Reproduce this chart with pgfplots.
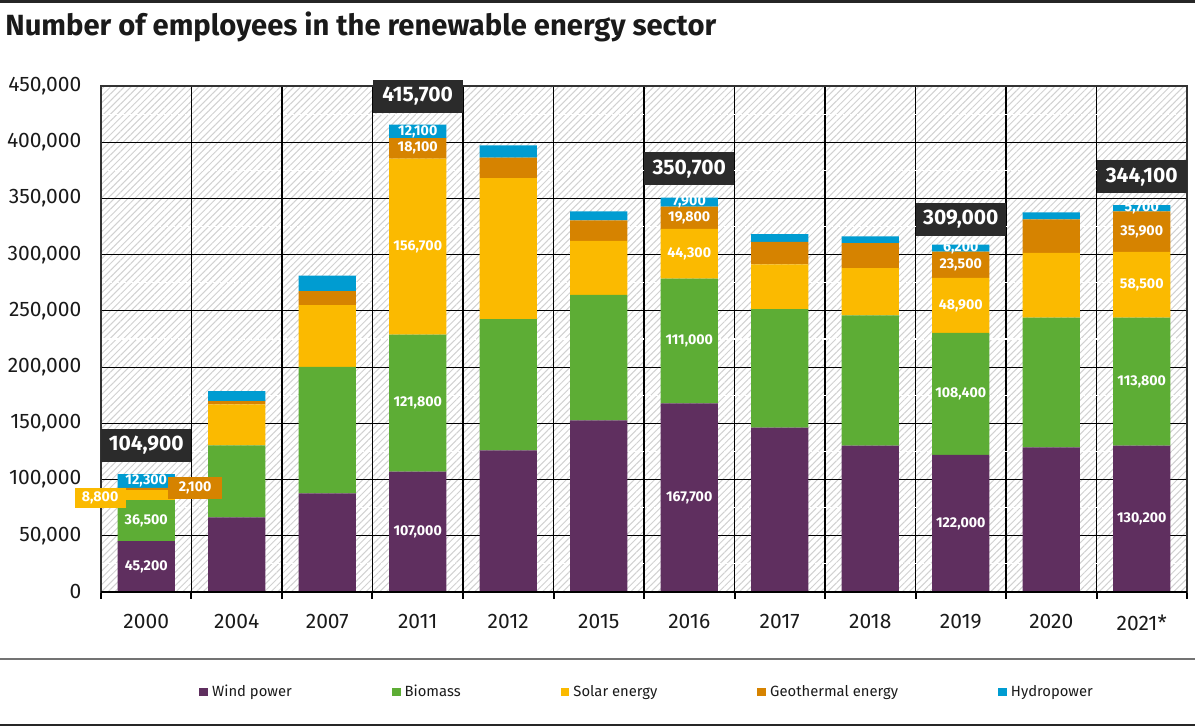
\documentclass[border=0pt]{standalone}
\usepackage{pgfplots}
\pgfplotsset{compat=1.18}
\usepackage{pgfplotstable}
\usepackage{fontspec}
\setmainfont{Fira Sans}
\usetikzlibrary{patterns.meta}

\definecolor{wind}{HTML}{5F2F5F}
\definecolor{bio}{HTML}{5DAD35}
\definecolor{solar}{HTML}{FBBA00}
\definecolor{geo}{HTML}{D68300}
\definecolor{hydro}{HTML}{009CD1}
\definecolor{boxdark}{HTML}{2B2B2B}
\definecolor{ink}{HTML}{1A1A1A}

% employees per sector (x = category index)
\pgfplotstableread{
x  wind   bio    solar  geo   hydro
0  45200  36500  8800   2100  12300
1  66400  64100  36300  2900  8900
2  87700  112500 54900  12400 13800
3  107000 121800 156700 18100 12100
4  126000 116700 125400 18300 10900
5  152600 111600 48100  18100 8200
6  167700 111000 44300  19800 7900
7  146100 105400 39900  20000 6800
8  130200 115700 42200  22200 5900
9  122000 108400 48900  23500 6200
10 128700 115400 57600  29600 6400
11 130200 113800 58500  35900 5700
}\employees

\pgfplotsset{
    frame/.style={at={(0,0)}, anchor=south west, scale only axis,
        width=543pt, height=253pt, xmin=-0.5, xmax=11.5, ymin=0, ymax=450000, clip=false},
}

\begin{document}
\begin{tikzpicture}[
    lbl/.style={text=white, font=\bfseries\fontsize{7.1}{8}\selectfont, inner sep=0pt},
    tot/.style={fill=boxdark, text=white, font=\bfseries\fontsize{10.5}{12}\selectfont,
        minimum width=45pt, minimum height=16.5pt, inner sep=0pt},
]
\useasboundingbox (-50.5pt,-67.5pt) rectangle (547pt,296pt);
\begin{axis}[
    frame,
    ybar stacked,
    bar width=0.63,
    xtick={0,...,11},
    xticklabels={2000,2004,2007,2011,2012,2015,2016,2017,2018,2019,2020,2021*},
    minor xtick={-0.5,0.5,...,11.5},
    ytick={0,50000,...,450000},
    minor ytick={25000,75000,...,425000},
    xminorgrids, ymajorgrids, yminorgrids,
    major grid style={black, line width=0.6pt},
    minor x grid style={black, line width=0.6pt},
    minor y grid style={white, dash pattern=on 2pt off 1.5pt, line width=0.6pt},
    major tick length=0pt,
    minor tick length=3.5pt,
    tick align=outside,
    xtick pos=lower, ytick pos=left,
    x tick style={black, line width=1pt},
    y tick style={draw=none},
    axis line style={black!80, line width=0.6pt},
    axis background/.style={pattern={Lines[angle=45,distance=2.4pt,line width=0.5pt]}, pattern color=black!18},
    scaled y ticks=false,
    /pgf/number format/fixed,
    /pgf/number format/assume math mode=true,
    /pgf/number format/1000 sep={,},
    yticklabel={\pgfmathprintnumber[fixed,precision=0]{\tick}},
    ticklabel style={font=\fontsize{10.5}{12}\selectfont, text=ink},
    xticklabel style={yshift=-7.8pt},
    yticklabel style={xshift=-6.3pt},
    legend columns=5,
    legend style={at={(0.0902,-0.1976)}, anchor=west, draw=none, fill=none, inner sep=0pt,
        font=\fontsize{7.4}{9}\selectfont, text=ink,
        /tikz/every even column/.append style={column sep=48pt}},
    legend image code/.code={\fill[#1] (0pt,-2.2pt) rectangle (4.4pt,2.2pt);},
]
\addplot[fill=wind, draw=none] table[x=x, y=wind] {\employees};
\addplot[fill=bio, draw=none] table[x=x, y=bio] {\employees};
\addplot[fill=solar, draw=none] table[x=x, y=solar] {\employees};
\addplot[fill=geo, draw=none] table[x=x, y=geo] {\employees};
\addplot[fill=hydro, draw=none] table[x=x, y=hydro] {\employees};
\legend{Wind power, Biomass, Solar energy, Geothermal energy, Hydropower}
\end{axis}

% value labels, drawn over the bars with the same axis mapping
\begin{axis}[frame, hide axis]
\draw[black, line width=1.3pt] (axis cs:-0.5,0) -- (axis cs:11.5,0);
% 2000
\node[lbl] at (axis cs:0,22600) {45,200};
\node[lbl] at (axis cs:0,63450) {36,500};
\node[lbl] at (axis cs:0,98750) {12,300};
\node[lbl, fill=solar, minimum width=25.5pt, minimum height=10pt] at (axis cs:-0.51,83500) {8,800};
\node[lbl, fill=geo, minimum width=27pt, minimum height=11pt] at (axis cs:0.54,92600) {2,100};
% 2011
\node[lbl] at (axis cs:3,53500) {107,000};
\node[lbl] at (axis cs:3,167900) {121,800};
\node[lbl] at (axis cs:3,307150) {156,700};
\node[lbl] at (axis cs:3,394550) {18,100};
\node[lbl] at (axis cs:3,409650) {12,100};
% 2016
\node[lbl] at (axis cs:6,83850) {167,700};
\node[lbl] at (axis cs:6,223200) {111,000};
\node[lbl] at (axis cs:6,300850) {44,300};
\node[lbl] at (axis cs:6,332900) {19,800};
\node[lbl] at (axis cs:6,346750) {7,900};
% 2019
\node[lbl] at (axis cs:9,61000) {122,000};
\node[lbl] at (axis cs:9,176200) {108,400};
\node[lbl] at (axis cs:9,254850) {48,900};
\node[lbl] at (axis cs:9,291050) {23,500};
\node[lbl] at (axis cs:9,305900) {6,200};
% 2021
\node[lbl] at (axis cs:11,65100) {130,200};
\node[lbl] at (axis cs:11,187100) {113,800};
\node[lbl] at (axis cs:11,273250) {58,500};
\node[lbl] at (axis cs:11,320450) {35,900};
\node[lbl] at (axis cs:11,341250) {5,700};
% totals
\node[tot] at (axis cs:0,130700) {104,900};
\node[tot] at (axis cs:3,441000) {415,700};
\node[tot] at (axis cs:6,376300) {350,700};
\node[tot] at (axis cs:9,331500) {309,000};
\node[tot] at (axis cs:11,369400) {344,100};
\end{axis}

\node[anchor=west, inner sep=0pt, text=ink, font=\bfseries\fontsize{14.6}{17}\selectfont]
    at (-48pt,282.5pt) {Number of employees in the renewable energy sector};
\draw[line width=1.5pt, black!85] (-50.5pt,295.25pt) -- (547pt,295.25pt);
\draw[line width=1pt, black!55] (-50.5pt,-33.5pt) -- (547pt,-33.5pt);
\draw[line width=1pt, black!85] (-50.5pt,-66.75pt) -- (547pt,-66.75pt);
\end{tikzpicture}
\end{document}
